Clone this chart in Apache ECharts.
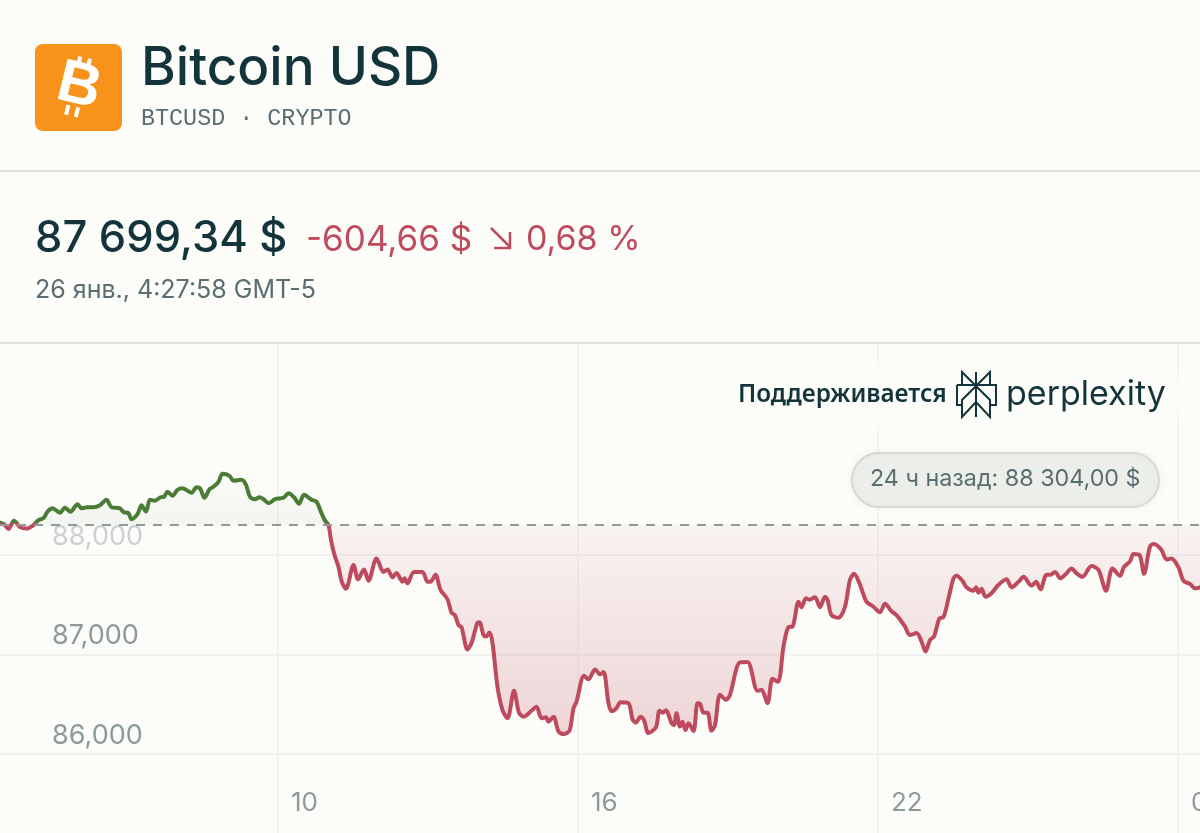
<!DOCTYPE html>
<html>
<head>
<meta charset="utf-8">
<title>Bitcoin USD</title>
<style>
  html, body { margin: 0; padding: 0; background: #FCFCF9; }
  #chart { width: 1200px; height: 833px; }
</style>
<script src="https://cdn.jsdelivr.net/npm/echarts@6/dist/echarts.min.js"></script>
</head>
<body>
<div id="chart"></div>
<script>
var hours = [
  4.44, 4.52, 4.61, 4.72, 4.84, 4.97, 5.11, 5.21, 5.31, 5.39, 5.49, 5.64, 5.74, 5.85, 5.99, 6.07,
  6.19, 6.31, 6.44, 6.57, 6.67, 6.83, 6.92, 7.01, 7.07, 7.19, 7.27, 7.36, 7.44, 7.54, 7.65, 7.72,
  7.79, 7.89, 7.99, 8.09, 8.27, 8.37, 8.44, 8.53, 8.63, 8.71, 8.81, 8.89, 9.03, 9.11, 9.27, 9.36,
  9.44, 9.54, 9.63, 9.71, 9.81, 9.94, 10.11, 10.21, 10.32, 10.42, 10.52, 10.67, 10.77, 10.87, 10.94, 11.01,
  11.06, 11.13, 11.21, 11.27, 11.36, 11.51, 11.60, 11.72, 11.81, 11.97, 12.11, 12.19, 12.29, 12.37, 12.44, 12.49,
  12.53, 12.59, 12.72, 12.89, 12.99, 13.05, 13.15, 13.25, 13.39, 13.47, 13.54, 13.61, 13.67, 13.79, 13.87, 13.99,
  14.03, 14.11, 14.16, 14.23, 14.29, 14.39, 14.49, 14.59, 14.72, 14.82, 14.92, 15.07, 15.17, 15.27, 15.36, 15.41,
  15.51, 15.61, 15.71, 15.83, 15.91, 15.97, 16.12, 16.21, 16.34, 16.44, 16.51, 16.61, 16.67, 16.77, 16.85, 17.01,
  17.09, 17.16, 17.25, 17.32, 17.41, 17.56, 17.63, 17.69, 17.76, 17.87, 17.92, 17.97, 18.04, 18.09, 18.15, 18.21,
  18.31, 18.39, 18.44, 18.51, 18.59, 18.67, 18.74, 18.84, 18.96, 19.04, 19.17, 19.24, 19.39, 19.59, 19.67, 19.79,
  19.89, 20.00, 20.11, 20.21, 20.29, 20.41, 20.47, 20.56, 20.63, 20.74, 20.84, 20.94, 20.99, 21.07, 21.21, 21.34,
  21.44, 21.52, 21.63, 21.77, 21.91, 22.04, 22.14, 22.27, 22.37, 22.54, 22.64, 22.77, 22.87, 22.95, 23.04, 23.12,
  23.23, 23.31, 23.41, 23.51, 23.57, 23.69, 23.77, 23.91, 23.96, 24.01, 24.07, 24.15, 24.27, 24.41, 24.57, 24.67,
  24.81, 24.91, 25.07, 25.16, 25.25, 25.37, 25.45, 25.54, 25.65, 25.77, 25.87, 25.97, 26.09, 26.27, 26.41, 26.56,
  26.69, 26.84, 26.92, 27.04, 27.11, 27.23, 27.32, 27.44, 27.52, 27.67, 27.77, 27.87, 28.01, 28.11, 28.24, 28.34,
  28.44
];
var prices = [
  88325, 88310, 88260, 88345, 88280, 88265, 88300, 88350, 88370, 88435, 88470, 88425, 88475, 88435, 88510, 88470,
  88480, 88480, 88500, 88555, 88480, 88470, 88430, 88420, 88360, 88410, 88500, 88435, 88555, 88545, 88580, 88585,
  88635, 88595, 88655, 88670, 88625, 88680, 88670, 88575, 88660, 88685, 88735, 88815, 88795, 88745, 88755, 88705,
  88585, 88560, 88580, 88560, 88520, 88560, 88575, 88620, 88580, 88515, 88605, 88555, 88535, 88420, 88345, 88300,
  88150, 88000, 87880, 87740, 87660, 87900, 87755, 87855, 87740, 87965, 87830, 87855, 87775, 87820, 87765, 87730,
  87765, 87715, 87830, 87830, 87730, 87730, 87800, 87650, 87555, 87420, 87395, 87295, 87275, 87050, 87115, 87320,
  87325, 87195, 87180, 87220, 87115, 86675, 86440, 86360, 86635, 86415, 86375, 86435, 86475, 86360, 86370, 86325,
  86375, 86225, 86200, 86235, 86460, 86525, 86785, 86750, 86850, 86800, 86825, 86510, 86430, 86460, 86520, 86510,
  86350, 86315, 86375, 86340, 86210, 86270, 86435, 86415, 86440, 86310, 86290, 86410, 86275, 86325, 86240, 86310,
  86230, 86510, 86505, 86415, 86415, 86235, 86290, 86595, 86545, 86595, 86860, 86920, 86925, 86635, 86645, 86510,
  86755, 86725, 87080, 87275, 87280, 87530, 87475, 87565, 87550, 87575, 87475, 87580, 87550, 87395, 87370, 87480,
  87750, 87810, 87715, 87530, 87480, 87425, 87510, 87435, 87395, 87280, 87195, 87215, 87130, 87030, 87145, 87180,
  87365, 87375, 87565, 87765, 87790, 87740, 87675, 87640, 87675, 87620, 87660, 87580, 87615, 87700, 87755, 87675,
  87730, 87780, 87690, 87730, 87655, 87800, 87800, 87830, 87765, 87815, 87865, 87815, 87780, 87890, 87850, 87640,
  87865, 87790, 87880, 87935, 88010, 88000, 87810, 88085, 88110, 88050, 87955, 87965, 87875, 87740, 87710, 87665,
  87675
];
var baseline = 88304;
var priceTicks = [86000, 87000, 88000];
var hourTicks = [10, 16, 22, 28];
var hourLabels = { 10: '10', 16: '16', 22: '22', 28: '04' };

var INK = '#13343B';
var MUTED = '#5A6E71';
var AXIS_TEXT = '#8C9A9B';
var UP = '#4A7C35';
var DOWN = '#BE4B5D';
var BG = '#FCFCF9';
var LINE = '#DFE1DE';
var FONT = 'Inter, "Noto Sans", sans-serif';

var points = hours.map(function (h, i) {
  return [h, prices[i]];
});

// where the baseline sits inside the line's own bounding box, 0 = top
var top_ = Math.max.apply(null, prices);
var bottom_ = Math.min.apply(null, prices);
var split = (top_ - baseline) / (top_ - bottom_);

function label(x, y, text, font, fill) {
  return {
    type: 'text',
    z: 20,
    style: { x: x, y: y, text: text, font: font, fill: fill, textVerticalAlign: 'middle' }
  };
}

function stroke(pts, color, width) {
  return {
    type: 'polyline',
    z: 21,
    shape: { points: pts },
    style: { stroke: color || INK, lineWidth: width || 2, fill: null, lineJoin: 'miter' }
  };
}

var chart = echarts.init(document.getElementById('chart'), null, { renderer: 'canvas' });

chart.setOption({
  backgroundColor: BG,
  animation: false,
  grid: { left: 0, right: 0, top: 345, bottom: 0, outerBoundsMode: 'none' },
  xAxis: {
    type: 'value',
    min: 4.44,
    max: 28.44,
    axisLine: { show: false },
    axisTick: { show: false, customValues: hourTicks },
    splitLine: { show: true, lineStyle: { color: '#F1F2EF', width: 1.5 } },
    axisLabel: {
      inside: true,
      customValues: hourTicks,
      margin: 17,
      align: 'left',
      padding: [0, 0, 0, 13],
      color: AXIS_TEXT,
      fontFamily: FONT,
      fontSize: 26,
      formatter: function (v) {
        return hourLabels[v];
      }
    }
  },
  yAxis: {
    type: 'value',
    min: 85206,
    max: 90110,
    axisLine: { show: false },
    axisTick: { show: false, customValues: priceTicks },
    splitLine: { show: true, lineStyle: { color: '#F1F2EF', width: 2 } },
    axisLabel: {
      inside: true,
      customValues: priceTicks,
      margin: 52,
      verticalAlign: 'bottom',
      padding: [0, 0, 5, 0],
      fontFamily: FONT,
      fontSize: 27,
      color: function (v) {
        return v == 88000 ? '#CBD1D1' : AXIS_TEXT;
      },
      formatter: function (v) {
        return echarts.format.addCommas(v);
      }
    }
  },
  series: [{
    type: 'line',
    data: points,
    smooth: 0.3,
    symbol: 'none',
    lineStyle: {
      width: 4,
      cap: 'round',
      join: 'round',
      color: new echarts.graphic.LinearGradient(0, 0, 0, 1, [
        { offset: 0, color: UP },
        { offset: split, color: UP },
        { offset: split, color: DOWN },
        { offset: 1, color: DOWN }
      ])
    },
    areaStyle: {
      origin: baseline,
      opacity: 1,
      color: new echarts.graphic.LinearGradient(0, 0, 0, 1, [
        { offset: 0, color: 'rgba(74,124,53,0)' },
        { offset: split, color: 'rgba(74,100,80,0.05)' },
        { offset: split, color: 'rgba(190,75,93,0.05)' },
        { offset: 1, color: 'rgba(190,75,93,0.22)' }
      ])
    },
    markLine: {
      silent: true,
      symbol: 'none',
      label: { show: false },
      lineStyle: { color: '#909B99', type: [9, 8], width: 2 },
      data: [{ yAxis: baseline }]
    }
  }],
  graphic: [
    // header
    { type: 'rect', z: 20, shape: { x: 35, y: 44, width: 87, height: 87, r: 8 }, style: { fill: '#F7931A' } },
    {
      type: 'group', x: 79, y: 87, rotation: -0.24, z: 21,
      children: [
        { type: 'text', z: 21, style: { x: 0, y: 0, text: 'B', font: 'bold 60px "Liberation Sans"', fill: '#fff', textAlign: 'center', textVerticalAlign: 'middle' } },
        { type: 'rect', z: 21, shape: { x: -8, y: -30, width: 4, height: 10 }, style: { fill: '#fff' } },
        { type: 'rect', z: 21, shape: { x: 2, y: -30, width: 4, height: 10 }, style: { fill: '#fff' } },
        { type: 'rect', z: 21, shape: { x: -8, y: 20, width: 4, height: 10 }, style: { fill: '#fff' } },
        { type: 'rect', z: 21, shape: { x: 2, y: 20, width: 4, height: 10 }, style: { fill: '#fff' } }
      ]
    },
    label(141, 69, 'Bitcoin USD', '500 53px ' + FONT, INK),
    label(141, 119, 'BTCUSD · CRYPTO', '23.4px "Liberation Mono"', MUTED),
    { type: 'rect', z: 20, shape: { x: 0, y: 170, width: 1200, height: 2 }, style: { fill: LINE } },
    label(35, 239, '87 699,34 $', '500 43.5px ' + FONT, INK),
    label(306, 240, '-604,66 $', '35px ' + FONT, DOWN),
    stroke([[491, 228], [510, 247]], DOWN, 2.5),
    stroke([[510, 232], [510, 248], [494, 248]], DOWN, 2.5),
    label(526, 240, '0,68 %', '34px ' + FONT, DOWN),
    label(35, 290, '26 янв., 4:27:58 GMT-5', '25px ' + FONT, MUTED),
    { type: 'rect', z: 20, shape: { x: 0, y: 342, width: 1200, height: 2 }, style: { fill: LINE } },
    // powered-by badge
    {
      type: 'rect', z: 19,
      shape: { x: 712, y: 366, width: 470, height: 60, r: 30 },
      style: { fill: BG, shadowBlur: 14, shadowColor: BG }
    },
    label(738, 395, 'Поддерживается', '600 24.3px "Noto Sans"', INK),
    stroke([[976, 372], [976, 417]]),
    stroke([[962, 385], [962, 372], [976, 386], [990, 372], [990, 385]]),
    stroke([[957, 385], [996, 385], [996, 405], [990, 405]]),
    stroke([[957, 385], [957, 405], [962, 405]]),
    stroke([[976, 386], [962, 400], [962, 417], [976, 402], [990, 417], [990, 400], [976, 386]]),
    label(1006, 395, 'perplexity', '34px ' + FONT, INK),
    // previous close pill
    {
      type: 'rect', z: 19,
      shape: { x: 852, y: 453, width: 307, height: 54, r: 27 },
      style: { fill: '#ECEEEA', stroke: '#D6D9D4', lineWidth: 2, shadowBlur: 8, shadowColor: 'rgba(0,0,0,0.06)' }
    },
    label(870, 479, '24 ч назад: 88 304,00 $', '23.3px ' + FONT, MUTED)
  ]
});
</script>
</body>
</html>
